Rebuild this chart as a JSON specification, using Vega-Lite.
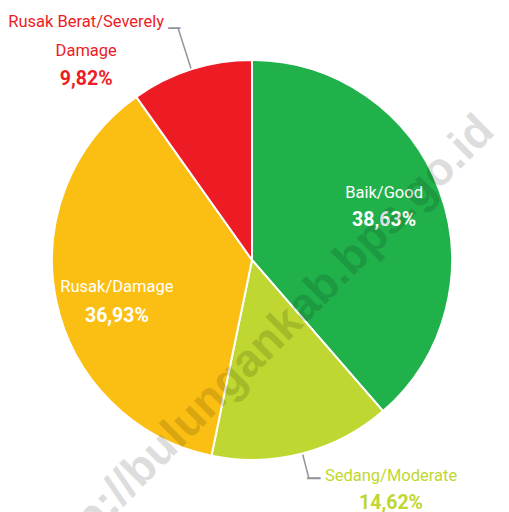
{
  "$schema": "https://vega.github.io/schema/vega-lite/v6.json",
  "width": 504,
  "height": 504,
  "autosize": "none",
  "padding": {"left": 0, "top": 8, "right": 5, "bottom": 0},
  "background": "white",
  "config": {"view": {"stroke": null}},
  "data": {
    "values": [
      {"idx": 1, "kategori": "Baik/Good", "value": 38.63, "persen": "38,63%"},
      {"idx": 2, "kategori": "Sedang/Moderate", "value": 14.62, "persen": "14,62%"},
      {"idx": 3, "kategori": "Rusak/Damage", "value": 36.93, "persen": "36,93%"},
      {"idx": 4, "kategori": "Rusak Berat/Severely\nDamage", "value": 9.82, "persen": "9,82%"}
    ]
  },
  "layer": [
    {
      "mark": {"type": "arc", "radius": 200, "stroke": "#ffffff", "strokeWidth": 2},
      "encoding": {
        "theta": {"field": "value", "type": "quantitative", "stack": true},
        "order": {"field": "idx", "type": "quantitative"},
        "color": {
          "field": "kategori",
          "type": "nominal",
          "scale": {
            "domain": ["Baik/Good", "Sedang/Moderate", "Rusak/Damage", "Rusak Berat/Severely\nDamage"],
            "range": ["#21b14b", "#bfd730", "#fbbf13", "#ed1c24"]
          },
          "legend": null
        }
      }
    },
    {
      "mark": {"type": "arc", "filled": false, "stroke": "#939598", "strokeWidth": 1.5, "radius": 243, "radius2": 201, "padAngle": 1.5},
      "encoding": {
        "theta": {"field": "value", "type": "quantitative", "stack": true},
        "order": {"field": "idx", "type": "quantitative"},
        "strokeOpacity": {"condition": {"test": "datum.idx == 4", "value": 1}, "value": 0}
      }
    },
    {
      "mark": {"type": "arc", "filled": false, "stroke": "#939598", "strokeWidth": 1.5, "radius": 226, "radius2": 201, "padAngle": 1.5},
      "encoding": {
        "theta": {"field": "value", "type": "quantitative", "stack": true},
        "order": {"field": "idx", "type": "quantitative"},
        "strokeOpacity": {"condition": {"test": "datum.idx == 2", "value": 1}, "value": 0}
      }
    },
    {
      "mark": {"type": "text", "radius": 243, "align": "right", "baseline": "alphabetic", "dx": 2, "dy": 7, "font": "DejaVu Sans", "fontSize": 20, "color": "#939598"},
      "encoding": {
        "theta": {"field": "value", "type": "quantitative", "stack": true},
        "order": {"field": "idx", "type": "quantitative"},
        "text": {"condition": {"test": "datum.idx == 4", "value": "─"}, "value": ""}
      }
    },
    {
      "mark": {"type": "text", "radius": 226, "align": "left", "baseline": "alphabetic", "dx": -2, "dy": 7, "font": "DejaVu Sans", "fontSize": 22, "color": "#939598"},
      "encoding": {
        "theta": {"field": "value", "type": "quantitative", "stack": true},
        "order": {"field": "idx", "type": "quantitative"},
        "text": {"condition": {"test": "datum.idx == 2", "value": "─"}, "value": ""}
      }
    },
    {
      "mark": {"type": "text", "radius": 141, "align": "center", "baseline": "alphabetic", "dy": -13, "font": "Roboto", "fontSize": 16.5, "color": "#ffffff"},
      "encoding": {
        "theta": {"field": "value", "type": "quantitative", "stack": true},
        "order": {"field": "idx", "type": "quantitative"},
        "text": {"condition": {"test": "datum.idx == 1", "field": "kategori"}, "value": ""}
      }
    },
    {
      "mark": {"type": "text", "radius": 141, "align": "center", "baseline": "alphabetic", "dy": 15, "font": "Roboto", "fontWeight": "bold", "fontSize": 19.5, "color": "#ffffff"},
      "encoding": {
        "theta": {"field": "value", "type": "quantitative", "stack": true},
        "order": {"field": "idx", "type": "quantitative"},
        "text": {"condition": {"test": "datum.idx == 1", "field": "persen"}, "value": ""}
      }
    },
    {
      "mark": {"type": "text", "radius": 138, "align": "center", "baseline": "alphabetic", "dy": 4, "font": "Roboto", "fontSize": 16.5, "color": "#ffffff"},
      "encoding": {
        "theta": {"field": "value", "type": "quantitative", "stack": true},
        "order": {"field": "idx", "type": "quantitative"},
        "text": {"condition": {"test": "datum.idx == 3", "field": "kategori"}, "value": ""}
      }
    },
    {
      "mark": {"type": "text", "radius": 138, "align": "center", "baseline": "alphabetic", "dy": 34, "font": "Roboto", "fontWeight": "bold", "fontSize": 19.5, "color": "#ffffff"},
      "encoding": {
        "theta": {"field": "value", "type": "quantitative", "stack": true},
        "order": {"field": "idx", "type": "quantitative"},
        "text": {"condition": {"test": "datum.idx == 3", "field": "persen"}, "value": ""}
      }
    },
    {
      "mark": {"type": "text", "radius": 226, "align": "center", "baseline": "alphabetic", "dx": 82, "dy": 2, "font": "Roboto", "fontSize": 16.5, "color": "#bfd730"},
      "encoding": {
        "theta": {"field": "value", "type": "quantitative", "stack": true},
        "order": {"field": "idx", "type": "quantitative"},
        "text": {"condition": {"test": "datum.idx == 2", "field": "kategori"}, "value": ""}
      }
    },
    {
      "mark": {"type": "text", "radius": 226, "align": "center", "baseline": "alphabetic", "dx": 82, "dy": 30, "font": "Roboto", "fontWeight": "bold", "fontSize": 19.5, "color": "#bfd730"},
      "encoding": {
        "theta": {"field": "value", "type": "quantitative", "stack": true},
        "order": {"field": "idx", "type": "quantitative"},
        "text": {"condition": {"test": "datum.idx == 2", "field": "persen"}, "value": ""}
      }
    },
    {
      "mark": {"type": "text", "radius": 243, "align": "center", "baseline": "alphabetic", "lineBreak": "\n", "lineHeight": 29, "dx": -92, "dy": -1.5, "font": "Roboto", "fontSize": 16.5, "color": "#ed1c24"},
      "encoding": {
        "theta": {"field": "value", "type": "quantitative", "stack": true},
        "order": {"field": "idx", "type": "quantitative"},
        "text": {"condition": {"test": "datum.idx == 4", "field": "kategori"}, "value": ""}
      }
    },
    {
      "mark": {"type": "text", "radius": 243, "align": "center", "baseline": "alphabetic", "dx": -92, "dy": 56.5, "font": "Roboto", "fontWeight": "bold", "fontSize": 19.5, "color": "#ed1c24"},
      "encoding": {
        "theta": {"field": "value", "type": "quantitative", "stack": true},
        "order": {"field": "idx", "type": "quantitative"},
        "text": {"condition": {"test": "datum.idx == 4", "field": "persen"}, "value": ""}
      }
    },
    {
      "data": {"values": [{"t": "http://bulungankab.bps.go.id"}]},
      "mark": {"type": "text", "angle": 315, "dx": -53, "dy": 69, "align": "center", "baseline": "middle", "font": "Liberation Sans", "fontWeight": "bold", "fontSize": 46, "color": "#000000", "opacity": 0.13},
      "encoding": {"text": {"field": "t", "type": "nominal"}}
    }
  ]
}
